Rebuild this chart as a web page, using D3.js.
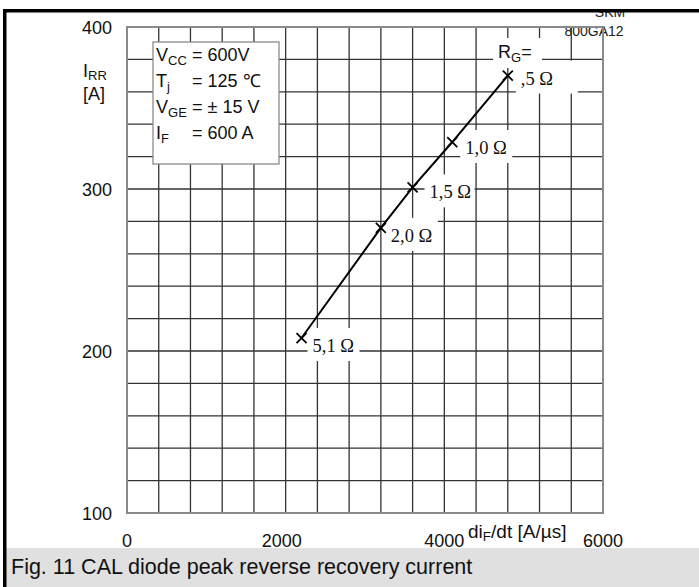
<!DOCTYPE html>
<html><head><meta charset="utf-8">
<script src="https://cdn.jsdelivr.net/npm/d3@7/dist/d3.min.js"></script>
<style>body{margin:0;background:#fff}svg{display:block}</style>
</head><body><svg id="c" width="699" height="587"></svg>
<script>
// ---- data ----
const rgLabels = [",5 Ω", "1,0 Ω", "1,5 Ω", "2,0 Ω", "5,1 Ω"];
const diF = [4800, 4100, 3600, 3200, 2200];          // di_F/dt [A/µs]
const iRR = [370, 329, 301, 276, 208];               // I_RR [A]
const xTickLabels = [0, 2000, 4000, 6000];
const yTickLabels = [100, 200, 300, 400];
const xDomain = [0, 6000], yDomain = [100, 400];
const xGridStep = 400, yGridStep = 20;
const legendRows = [
  {main: "V", sub: "CC", val: "= 600V"},
  {main: "T", sub: "j", val: "= 125 \u2103"},
  {main: "V", sub: "GE", val: "= \u00b1 15 V"},
  {main: "I", sub: "F", val: "= 600 A"}
];
const caption = "Fig. 11 CAL diode peak reverse recovery current";

// ---- layout ----
const svg = d3.select("#c");
const L = 127, R = 603, T = 27, B = 513;
const x = d3.scaleLinear().domain(xDomain).range([L, R]);
const y = d3.scaleLinear().domain(yDomain).range([B, T]);
const sans = "'Liberation Sans', Arial, Helvetica, sans-serif";
const serif = "'Liberation Serif', 'Times New Roman', serif";

// top-right product text (partially hidden by frame)
svg.append("text").attr("x", 610).attr("y", 17).attr("text-anchor", "middle")
  .attr("font-family", sans).attr("font-size", 14).attr("fill", "#222").text("SKM");
svg.append("text").attr("x", 594).attr("y", 36).attr("text-anchor", "middle")
  .attr("font-family", sans).attr("font-size", 14).attr("fill", "#222").text("800GA12");
svg.append("rect").attr("x", 0).attr("y", 0).attr("width", 699).attr("height", 9).attr("fill", "#fff");

// grid
const gx = d3.range(xDomain[0], xDomain[1] + 1, xGridStep);
const gy = d3.range(yDomain[0], yDomain[1] + 1, yGridStep);
const grid = svg.append("g").attr("stroke", "#333").attr("stroke-width", 1.3);
grid.selectAll("line.v").data(gx.slice(1, -1)).join("line")
  .attr("x1", d => x(d)).attr("x2", d => x(d)).attr("y1", T).attr("y2", B);
grid.selectAll("line.h").data(gy.slice(1, -1)).join("line")
  .attr("y1", d => y(d)).attr("y2", d => y(d)).attr("x1", L).attr("x2", R);
svg.append("rect").attr("x", L).attr("y", T).attr("width", R - L).attr("height", B - T)
  .attr("fill", "none").attr("stroke", "#8a8a8a").attr("stroke-width", 2);

// label background boxes
const pts = diF.map((d, i) => ({x: d, y: iRR[i], label: rgLabels[i]}));
const offs = [[13, 9], [13, 12], [17, 11], [10, 14], [11, 14]];
const boxW = [62, 52, 50, 52, 52];
svg.append("g").selectAll("rect").data(pts).join("rect")
  .attr("x", (d, i) => x(d.x) + offs[i][0] - 5)
  .attr("y", (d, i) => y(d.y) + offs[i][1] - 24)
  .attr("width", (d, i) => boxW[i])
  .attr("height", 33)
  .attr("fill", "#fff");
// R_G= box
svg.append("rect").attr("x", 493).attr("y", 38).attr("width", 49).attr("height", 30).attr("fill", "#fff");

// legend box
svg.append("rect").attr("x", 153).attr("y", 42).attr("width", 126).attr("height", 122)
  .attr("fill", "#fff").attr("stroke", "#8a8a8a").attr("stroke-width", 1.3);
const lg = svg.append("g").attr("font-family", sans).attr("font-size", 18).attr("fill", "#111");
legendRows.forEach((r, i) => {
  const by = 61 + i * 26;
  const t = lg.append("text").attr("x", 156).attr("y", by);
  t.append("tspan").text(r.main);
  t.append("tspan").attr("font-size", 13).attr("dy", 4).text(r.sub);
  lg.append("text").attr("x", 192).attr("y", by).text(r.val);
});

// curve
const line = d3.line().x(d => x(d.x)).y(d => y(d.y));
svg.append("path").datum(pts).attr("d", line).attr("fill", "none")
  .attr("stroke", "#000").attr("stroke-width", 2);
const s = 5;
svg.append("g").selectAll("path").data(pts).join("path")
  .attr("d", d => { const cx = x(d.x), cy = y(d.y);
    return `M${cx - s},${cy - s}L${cx + s},${cy + s}M${cx - s},${cy + s}L${cx + s},${cy - s}`; })
  .attr("stroke", "#000").attr("stroke-width", 1.8);
svg.append("g").selectAll("text").data(pts).join("text")
  .attr("x", (d, i) => x(d.x) + offs[i][0])
  .attr("y", (d, i) => y(d.y) + offs[i][1])
  .attr("font-family", serif).attr("font-size", 18.5).attr("fill", "#111")
  .text(d => d.label);
const rg = svg.append("text").attr("x", 498).attr("y", 58)
  .attr("font-family", sans).attr("font-size", 18).attr("fill", "#111");
rg.append("tspan").text("R");
rg.append("tspan").attr("font-size", 13).attr("dy", 4).text("G");
rg.append("tspan").attr("dy", -4).text("=");

// axis tick labels
const tk = svg.append("g").attr("font-family", sans).attr("font-size", 18).attr("fill", "#111");
tk.selectAll("text.y").data(yTickLabels).join("text")
  .attr("x", 112).attr("y", d => y(d) + 6.5).attr("text-anchor", "end").text(d => d);
tk.selectAll("text.x").data(xTickLabels).join("text")
  .attr("x", d => x(d) - (d === 2000 ? 4 : 0)).attr("y", 547).attr("text-anchor", "middle").text(d => d);

// axis titles
const yt = tk.append("text").attr("x", 83).attr("y", 77);
yt.append("tspan").text("I");
yt.append("tspan").attr("font-size", 13).attr("dy", 3).text("RR");
tk.append("text").attr("x", 83).attr("y", 100).text("[A]");
const xt = tk.append("text").attr("x", 468).attr("y", 538).attr("font-size", 19);
xt.append("tspan").text("di");
xt.append("tspan").attr("font-size", 13.5).attr("dy", 3).text("F");
xt.append("tspan").attr("dy", -3).text("/dt [A/\u00b5s]");

// caption band
svg.append("rect").attr("x", 6).attr("y", 548).attr("width", 693).attr("height", 39).attr("fill", "#e0e0e0");
svg.append("text").attr("x", 11).attr("y", 574).attr("font-family", sans).attr("font-size", 21.5)
  .attr("fill", "#111").text(caption);

// frame
svg.append("rect").attr("x", 3).attr("y", 9).attr("width", 696).attr("height", 3.5).attr("fill", "#000");
svg.append("rect").attr("x", 3).attr("y", 9).attr("width", 3.5).attr("height", 578).attr("fill", "#000");
</script></body></html>
